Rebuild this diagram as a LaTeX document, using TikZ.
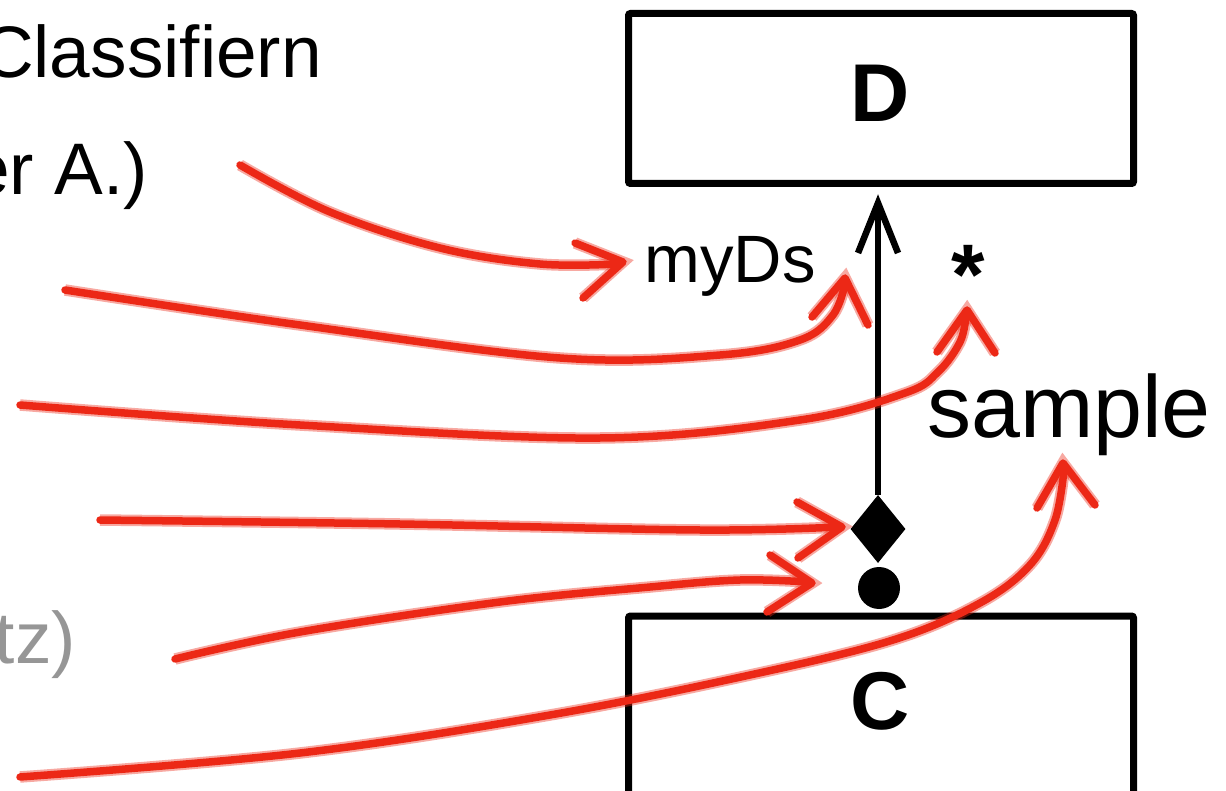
\documentclass[tikz,border=0pt]{standalone}
\usepackage{fontspec}
\setmainfont{Liberation Sans}
\usetikzlibrary{shapes.geometric,calc}
\definecolor{chalkred}{RGB}{236,40,22}
\definecolor{fadegray}{RGB}{150,150,150}
\begin{document}
\begin{tikzpicture}[x=1pt,y=-1pt,
  box/.style={draw,line width=7pt,rounded corners=2pt,inner sep=0pt,
              minimum width=505pt},
  clsname/.style={inner sep=0pt,anchor=base,
              font=\fontsize{82}{90}\selectfont\bfseries},
  conn/.style={line width=6.5pt},
  sidetext/.style={inner sep=0pt,anchor=base east,
              font=\fontsize{73}{80}\selectfont},
  rolename/.style={inner sep=0pt,font=\fontsize{67}{72}\selectfont},
  redpen/.style={chalkred,line width=7.5pt,line cap=round,line join=round,
              preaction={draw,chalkred,line width=11.5pt,opacity=0.4}},
]
\useasboundingbox (0,0) rectangle (1226,791);
\clip (0,0) rectangle (1226,791);

% left-hand text, running off the edge
\node[sidetext] (t1) at (322,78) {Classifiern};
\node[sidetext] (t2) at (148,195) {er A.)};
\node[sidetext,text=fadegray] (t3) at (76,663) {tz)};

% class boxes
\node[box,minimum height=170pt] (D) at (881,98.5) {};
\node[clsname] (Dname) at (880,122) {D};
\node[box,minimum height=200pt] (C) at (881,716) {};
\node[clsname] (Cname) at (880,729) {C};

% composition end: filled diamond and dot
\node[diamond,fill=black,inner sep=0pt,minimum width=55pt,minimum height=68pt]
  (dia) at (878,529) {};
\node[circle,fill=black,inner sep=0pt,minimum size=42pt] (dot) at (879,588) {};

% association line with open arrow head into D
\coordinate (tipD) at ($(dia.north |- D.south)+(0,16)$);
\draw[conn] (dia.north) -- (tipD);
\draw[conn,line join=miter] ($(tipD)+(-20,50)$) -- (tipD) -- ($(tipD)+(20,50)$);

% role names and multiplicity
\node[rolename,anchor=base] (role) at (730,283) {myDs};
\node[inner sep=0pt,anchor=base,font=\fontsize{86}{90}\selectfont\bfseries]
  (mult) at (968,305) {*};
\node[inner sep=0pt,anchor=base west,font=\fontsize{88}{96}\selectfont]
  (assoc) at (927,437) {sample};

% red pointers: start and tip points
\coordinate (s1) at (240,165);  \coordinate (e1) at (623,262);
\coordinate (s2) at (65,290);   \coordinate (e2) at (845,278);
\coordinate (s3) at (20,405);   \coordinate (e3) at (967,310);
\coordinate (s4) at (100,520);  \coordinate (e4) at (842,527);
\coordinate (s5) at (175,659);  \coordinate (e5) at (812,583);
\coordinate (s6) at (20,777);   \coordinate (e6) at (1063,463);

% 1: to the role name
\draw[redpen] plot[smooth,tension=0.6] coordinates
  {(s1) (330,212) (440,248) (540,264) (617,264)};
\draw[redpen] (575,243) -- (e1) -- (583,298);

% 2: to the end of the line below the arrow head
\draw[redpen] plot[smooth,tension=0.6] coordinates
  {(s2) (300,325) (560,358) (720,355) (800,340) (833,315) (845,284)};
\draw[redpen] (812,317) -- (e2) -- (868,325);

% 3: to the multiplicity
\draw[redpen] plot[smooth,tension=0.6] coordinates
  {(s3) (300,425) (600,438) (800,420) (905,393) (938,372) (960,342) (966,316)};
\draw[redpen] (937,352) -- (e3) -- (995,353);

% 4: to the diamond
\draw[redpen] plot[smooth,tension=0.6] coordinates
  {(s4) (400,524) (700,530) (838,527)};
\draw[redpen] (797,502) -- (e4) -- (798,558);

% 5: to the dot
\draw[redpen] plot[smooth,tension=0.6] coordinates
  {(s5) (300,632) (500,602) (650,587) (740,580) (808,582)};
\draw[redpen] (770,555) -- (e5) -- (767,612);

% 6: to the association name
\draw[redpen] plot[smooth,tension=0.6] coordinates
  {(s6) (300,753) (550,715) (750,675) (893,640) (980,603) (1030,565) (1055,520) (1064,470)};
\draw[redpen] (1037,508) -- (e6) -- (1095,505);
\end{tikzpicture}
\end{document}
